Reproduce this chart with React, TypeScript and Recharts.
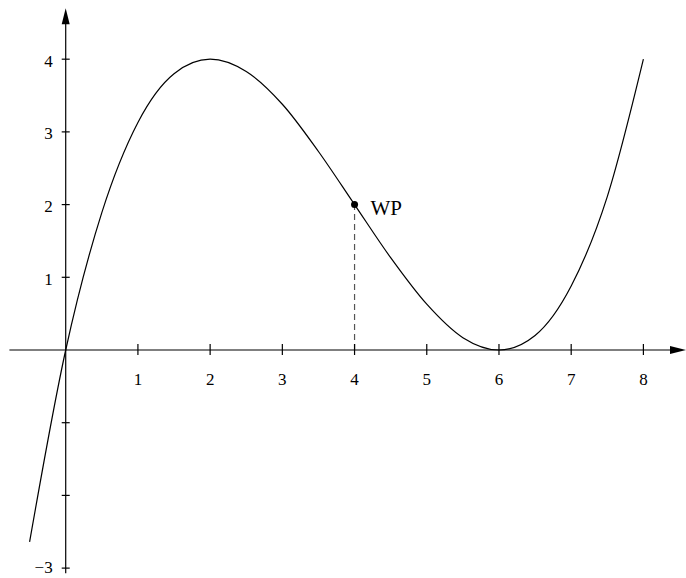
import React from 'react';
import { LineChart, Line, XAxis, YAxis, ReferenceLine, ReferenceDot } from 'recharts';

const xValues = [-0.5, 0, 0.5, 1, 1.5, 2, 2.5, 3, 3.5, 4, 4.5, 5, 5.5, 6, 6.5, 7, 7.5, 8];
const yValues = [-2.64, 0, 1.89, 3.13, 3.8, 4, 3.83, 3.38, 2.73, 2, 1.27, 0.63, 0.17, 0, 0.2, 0.88, 2.11, 4];
const xTicks = [1, 2, 3, 4, 5, 6, 7, 8];
const yTicks = [1, 2, 3, 4, -1, -2, -3];
const yTickLabels: Record<number, string> = { 1: '1', 2: '2', 3: '3', 4: '4', [-3]: '\u22123' };
const inflection = { x: 4, y: 2, label: 'WP' };

const data = xValues.map((x, i) => ({ x, y: yValues[i] }));

const W = 686;
const H = 578;
const FONT = '"Liberation Serif", "Times New Roman", serif';
const INK = '#000';

const xTickShape = (label: string) => (p: any) => (
  <g>
    <line x1={p.cx} y1={p.cy - 6} x2={p.cx} y2={p.cy + 5} stroke={INK} strokeWidth={1.2} />
    <text x={p.cx} y={p.cy + 35} textAnchor="middle" fontFamily={FONT} fontSize={17} fill={INK}>
      {label}
    </text>
  </g>
);

const yTickShape = (label?: string, bottom?: boolean) => (p: any) => (
  <g>
    <line x1={p.cx - 4} y1={p.cy} x2={p.cx + 4} y2={p.cy} stroke={INK} strokeWidth={1.2} />
    {label ? (
      <text
        x={p.cx - 13}
        y={p.cy + (bottom ? 5 : 7.5)}
        textAnchor="end"
        fontFamily={FONT}
        fontSize={17}
        fill={INK}
      >
        {label}
      </text>
    ) : null}
  </g>
);

const arrowRight = (p: any) => (
  <polygon points={`${p.cx},${p.cy} ${p.cx - 16},${p.cy - 4} ${p.cx - 16},${p.cy + 4}`} fill={INK} />
);
const arrowUp = (p: any) => (
  <polygon points={`${p.cx},${p.cy} ${p.cx - 4},${p.cy + 16} ${p.cx + 4},${p.cy + 16}`} fill={INK} />
);

const wpShape = (p: any) => (
  <g>
    <circle cx={p.cx} cy={p.cy} r={3.5} fill={INK} />
    <text x={p.cx + 16} y={p.cy + 10} fontFamily={FONT} fontSize={21} fill={INK}>
      {inflection.label}
    </text>
  </g>
);

export default function App() {
  return (
    <div style={{ position: 'absolute', left: 0, top: 0, width: W, height: H, background: '#fff' }}>
      <LineChart width={W} height={H} data={data} margin={{ top: 0, right: 0, bottom: 0, left: 0 }}>
        <XAxis dataKey="x" type="number" domain={[-0.91, 8.59]} allowDataOverflow hide />
        <YAxis type="number" domain={[-3.136, 4.814]} allowDataOverflow hide />
        <ReferenceLine
          segment={[{ x: -0.78, y: 0 }, { x: 8.4, y: 0 }]}
          stroke={INK}
          strokeWidth={1.2}
          ifOverflow="visible"
        />
        <ReferenceLine
          segment={[{ x: 0, y: -3.07 }, { x: 0, y: 4.55 }]}
          stroke={INK}
          strokeWidth={1.2}
          ifOverflow="visible"
        />
        <ReferenceDot x={8.59} y={0} r={0} shape={arrowRight} ifOverflow="visible" />
        <ReferenceDot x={0} y={4.7} r={0} shape={arrowUp} ifOverflow="visible" />
        {xTicks.map((t) => (
          <ReferenceDot key={`xt${t}`} x={t} y={0} r={0} shape={xTickShape(String(t))} ifOverflow="visible" />
        ))}
        {yTicks.map((t) => (
          <ReferenceDot
            key={`yt${t}`}
            x={0}
            y={t}
            r={0}
            shape={yTickShape(yTickLabels[t], t === -3)}
            ifOverflow="visible"
          />
        ))}
        <ReferenceLine
          segment={[{ x: inflection.x, y: 0 }, { x: inflection.x, y: inflection.y }]}
          stroke="#555"
          strokeWidth={1.2}
          strokeDasharray="6 4"
          ifOverflow="visible"
        />
        <Line
          dataKey="y"
          type="monotone"
          stroke={INK}
          strokeWidth={1.2}
          dot={false}
          activeDot={false}
          isAnimationActive={false}
        />
        <ReferenceDot x={inflection.x} y={inflection.y} r={0} shape={wpShape} ifOverflow="visible" />
      </LineChart>
    </div>
  );
}
